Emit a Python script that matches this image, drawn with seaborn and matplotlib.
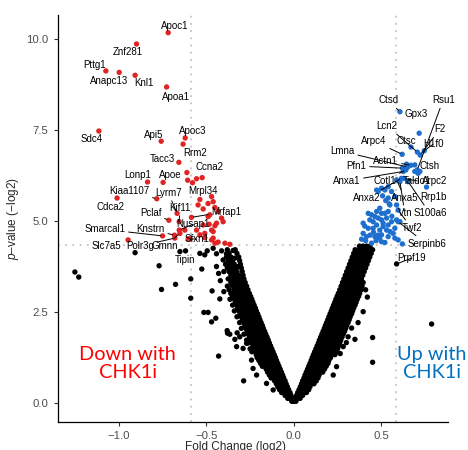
import numpy as np
import pandas as pd
import matplotlib
matplotlib.use("Agg")
import matplotlib.pyplot as plt
import seaborn as sns

# ---- data (log2 fold change, -log2 p-value) ----
down_genes = ["Apoc1", "Znf281", "Pttg1", "Anapc13", "Knl1", "Apoa1", "Sdc4", "Api5",
              "Apoc3", "Rrm2", "Tacc3", "Ccna2", "Lonp1", "Apoe", "Kiaa1107", "Lyrm7",
              "Mrpl34", "Cdca2", "Kif11", "Mrfap1", "Pclaf", "Nusap1", "Smarcal1",
              "Knstrn", "Slc7a5", "Polr3g", "Gmnn", "Sfxn1"]
down_fc = [-0.718, -0.899, -1.074, -0.998, -0.907, -0.727, -1.114, -0.758,
           -0.621, -0.633, -0.657, -0.524, -0.836, -0.747, -0.783, -0.667,
           -0.470, -1.010, -0.655, -0.585, -0.714, -0.655, -0.750,
           -0.682, -0.947, -0.680, -0.651, -0.594]
down_p = [10.16, 9.85, 9.11, 9.07, 8.99, 8.67, 7.46, 7.18,
          7.27, 7.10, 6.60, 6.18, 6.06, 6.05, 5.60, 5.20,
          5.66, 5.62, 4.97, 5.09, 5.01, 4.74, 4.58,
          4.60, 4.47, 4.52, 4.65, 4.50]

down_other_fc = [-0.611, -0.607, -0.579, -0.556, -0.547, -0.518, -0.461, -0.451, -0.490,
                 -0.433, -0.413, -0.484, -0.451, -0.480, -0.442, -0.404, -0.518, -0.509,
                 -0.461, -0.470, -0.394, -0.451, -0.537, -0.509, -0.470, -0.461, -0.433,
                 -0.366, -0.556, -0.623, -0.604, -0.537, -0.49]
down_other_p = [6.32, 6.11, 6.04, 6.15, 5.43, 5.32, 5.52, 5.36, 5.11,
                5.25, 5.07, 4.90, 4.86, 5.16, 4.93, 4.97, 4.88, 4.65,
                4.70, 4.47, 4.38, 4.38, 4.61, 4.53, 4.74, 4.52, 4.41,
                4.35, 4.74, 4.74, 4.50, 5.58, 5.47]

up_genes = ["Ctsd", "Rsu1", "Gpx3", "Lcn2", "F2", "Arpc4", "Ctsc", "H1f0", "Lmna",
            "Actn1", "Pfn1", "Ctsh", "Anxa1", "Cotl1", "Taldo1", "Arpc2", "Anxa2",
            "Anxa5", "Rrp1b", "Vtn", "S100a6", "Twf2", "Serpinb6"]
up_fc = [0.606, 0.705, 0.716, 0.706, 0.722, 0.619, 0.669, 0.745, 0.651,
         0.669, 0.621, 0.710, 0.625, 0.640, 0.629, 0.758, 0.615,
         0.587, 0.720, 0.606, 0.653, 0.596, 0.596]
up_p = [7.99, 6.39, 7.40, 6.88, 6.80, 6.82, 7.02, 6.92, 6.47,
        6.52, 6.44, 6.30, 6.35, 6.39, 6.16, 5.92, 6.16,
        6.12, 6.35, 6.07, 6.07, 5.29, 4.97]

up_other_fc = [0.644, 0.691, 0.691, 0.539, 0.520, 0.501, 0.482, 0.473, 0.558, 0.577,
               0.507, 0.539, 0.587, 0.549, 0.491, 0.473, 0.501, 0.520, 0.539, 0.425,
               0.444, 0.463, 0.482, 0.501, 0.530, 0.434, 0.453, 0.473, 0.510, 0.539,
               0.558, 0.587, 0.606, 0.577, 0.530, 0.491, 0.453, 0.425, 0.396, 0.415,
               0.463, 0.501, 0.539, 0.577, 0.596, 0.620, 0.396, 0.444, 0.387, 0.501,
               0.480, 0.549, 0.567, 0.545, 0.410, 0.520, 0.455, 0.470, 0.435, 0.490,
               0.510, 0.405, 0.560, 0.525]
up_other_p = [6.55, 6.53, 6.35, 5.93, 5.84, 5.89, 5.80, 5.84, 5.80, 5.66,
              5.68, 5.62, 5.43, 5.43, 5.34, 5.25, 5.20, 5.20, 5.25, 5.20,
              5.16, 5.11, 5.07, 5.02, 5.07, 5.02, 4.97, 4.88, 4.93, 4.88,
              4.97, 5.02, 4.97, 4.79, 4.74, 4.74, 4.79, 4.79, 4.65, 4.56,
              4.56, 4.61, 4.56, 4.52, 4.47, 4.36, 4.93, 4.38, 4.49, 4.42,
              4.60, 4.70, 4.65, 5.46, 4.45, 4.40, 4.68, 4.45, 4.60, 4.52,
              4.84, 4.85, 5.12, 5.55]

ns_genes = ["Tipin", "Prpf19"]
ns_fc = [-0.619, 0.587]
ns_p = [4.17, 3.81]

# the dense V of non-significant proteins, read row by row (-log2 p, then fold changes)
arm_rows_p = [0.04, 0.12, 0.20, 0.28, 0.36, 0.44, 0.52, 0.60, 0.68, 0.76, 0.84, 0.92,
              1.00, 1.08, 1.16, 1.24, 1.32, 1.40, 1.48, 1.56, 1.64, 1.72, 1.80, 1.88,
              1.96, 2.04, 2.12, 2.20, 2.28, 2.36, 2.44, 2.52, 2.60, 2.68, 2.76, 2.84,
              2.92, 3.00, 3.10, 3.20, 3.30, 3.40, 3.50, 3.60, 3.70, 3.80, 3.90, 4.00,
              4.10, 4.20, 4.30]
left_arm_fc = [
    [-0.003, -0.012], [-0.008, -0.022, -0.035], [-0.016, -0.032, -0.05],
    [-0.022, -0.04, -0.058, -0.07], [-0.03, -0.048, -0.066, -0.082],
    [-0.037, -0.055, -0.073, -0.092], [-0.044, -0.063, -0.082, -0.1],
    [-0.05, -0.07, -0.09, -0.11], [-0.058, -0.078, -0.098, -0.118, -0.13],
    [-0.064, -0.084, -0.104, -0.124, -0.14], [-0.071, -0.091, -0.111, -0.131, -0.15],
    [-0.078, -0.098, -0.118, -0.138, -0.158],
    [-0.085, -0.105, -0.125, -0.145, -0.165, -0.18],
    [-0.092, -0.112, -0.132, -0.152, -0.172, -0.19],
    [-0.099, -0.119, -0.139, -0.159, -0.179, -0.2],
    [-0.105, -0.125, -0.145, -0.165, -0.185, -0.21],
    [-0.112, -0.132, -0.152, -0.172, -0.192, -0.215],
    [-0.119, -0.139, -0.159, -0.179, -0.199, -0.22, -0.24],
    [-0.126, -0.146, -0.166, -0.186, -0.206, -0.226, -0.25],
    [-0.133, -0.153, -0.173, -0.193, -0.213, -0.233],
    [-0.14, -0.16, -0.18, -0.2, -0.22, -0.24, -0.262],
    [-0.146, -0.166, -0.186, -0.206, -0.226, -0.246, -0.27],
    [-0.153, -0.173, -0.193, -0.213, -0.233, -0.253],
    [-0.16, -0.18, -0.2, -0.22, -0.24, -0.26, -0.285],
    [-0.167, -0.187, -0.207, -0.227, -0.247, -0.267],
    [-0.174, -0.194, -0.214, -0.234, -0.254, -0.274, -0.3],
    [-0.18, -0.2, -0.22, -0.24, -0.26, -0.28],
    [-0.187, -0.207, -0.227, -0.247, -0.267, -0.287, -0.31],
    [-0.194, -0.214, -0.234, -0.254, -0.274, -0.294],
    [-0.2, -0.22, -0.24, -0.26, -0.28, -0.3, -0.325],
    [-0.207, -0.227, -0.247, -0.267, -0.287, -0.307],
    [-0.214, -0.234, -0.254, -0.274, -0.294, -0.314, -0.34],
    [-0.22, -0.24, -0.26, -0.28, -0.3, -0.32],
    [-0.227, -0.247, -0.267, -0.287, -0.307, -0.327, -0.35],
    [-0.234, -0.254, -0.274, -0.294, -0.314, -0.334],
    [-0.24, -0.26, -0.28, -0.3, -0.32, -0.34, -0.365],
    [-0.247, -0.267, -0.287, -0.307, -0.327, -0.35],
    [-0.254, -0.274, -0.294, -0.314, -0.334, -0.36],
    [-0.262, -0.282, -0.302, -0.322, -0.342, -0.37],
    [-0.27, -0.29, -0.31, -0.33, -0.35, -0.38],
    [-0.278, -0.3, -0.32, -0.34, -0.36],
    [-0.285, -0.308, -0.328, -0.35, -0.375],
    [-0.29, -0.316, -0.336, -0.36],
    [-0.295, -0.325, -0.345, -0.37, -0.4],
    [-0.3, -0.333, -0.355, -0.38],
    [-0.305, -0.34, -0.365, -0.39],
    [-0.31, -0.35, -0.375],
    [-0.315, -0.36, -0.385],
    [-0.325, -0.37],
    [-0.335, -0.38],
    [],
]
right_arm_fc = [
    [0.003, 0.012], [0.008, 0.022, 0.036], [0.016, 0.032, 0.05],
    [0.022, 0.04, 0.058, 0.072], [0.03, 0.048, 0.066, 0.085],
    [0.037, 0.055, 0.073, 0.092], [0.044, 0.063, 0.082, 0.1, 0.115],
    [0.05, 0.07, 0.09, 0.11, 0.128], [0.058, 0.078, 0.098, 0.118, 0.138],
    [0.064, 0.084, 0.104, 0.124, 0.144], [0.071, 0.091, 0.111, 0.131, 0.151, 0.165],
    [0.078, 0.098, 0.118, 0.138, 0.158, 0.175],
    [0.085, 0.105, 0.125, 0.145, 0.165, 0.185],
    [0.092, 0.112, 0.132, 0.152, 0.172, 0.195],
    [0.099, 0.119, 0.139, 0.159, 0.179, 0.2],
    [0.105, 0.125, 0.145, 0.165, 0.185, 0.21],
    [0.112, 0.132, 0.152, 0.172, 0.192, 0.215, 0.235],
    [0.119, 0.139, 0.159, 0.179, 0.199, 0.22, 0.245],
    [0.126, 0.146, 0.166, 0.186, 0.206, 0.226, 0.25],
    [0.133, 0.153, 0.173, 0.193, 0.213, 0.233, 0.255],
    [0.14, 0.16, 0.18, 0.2, 0.22, 0.24, 0.262],
    [0.146, 0.166, 0.186, 0.206, 0.226, 0.246, 0.268],
    [0.153, 0.173, 0.193, 0.213, 0.233, 0.253, 0.275],
    [0.16, 0.18, 0.2, 0.22, 0.24, 0.26, 0.282],
    [0.167, 0.187, 0.207, 0.227, 0.247, 0.267, 0.29],
    [0.174, 0.194, 0.214, 0.234, 0.254, 0.274, 0.296],
    [0.18, 0.2, 0.22, 0.24, 0.26, 0.28, 0.302],
    [0.187, 0.207, 0.227, 0.247, 0.267, 0.287, 0.31],
    [0.194, 0.214, 0.234, 0.254, 0.274, 0.294, 0.316],
    [0.2, 0.22, 0.24, 0.26, 0.28, 0.3, 0.322],
    [0.207, 0.227, 0.247, 0.267, 0.287, 0.307, 0.33],
    [0.214, 0.234, 0.254, 0.274, 0.294, 0.314, 0.336],
    [0.22, 0.24, 0.26, 0.28, 0.3, 0.32, 0.342],
    [0.227, 0.247, 0.267, 0.287, 0.307, 0.327, 0.35],
    [0.234, 0.254, 0.274, 0.294, 0.314, 0.334, 0.356],
    [0.24, 0.26, 0.28, 0.3, 0.32, 0.34, 0.362],
    [0.247, 0.267, 0.287, 0.307, 0.327, 0.347, 0.37],
    [0.254, 0.274, 0.294, 0.314, 0.334, 0.354, 0.376],
    [0.262, 0.282, 0.302, 0.322, 0.342, 0.362, 0.384],
    [0.27, 0.29, 0.31, 0.33, 0.35, 0.37, 0.39],
    [0.278, 0.298, 0.318, 0.338, 0.358, 0.378, 0.396],
    [0.286, 0.306, 0.326, 0.346, 0.366, 0.386],
    [0.294, 0.314, 0.334, 0.354, 0.374, 0.394],
    [0.302, 0.322, 0.342, 0.362, 0.382, 0.402],
    [0.31, 0.33, 0.35, 0.37, 0.39, 0.41],
    [0.318, 0.338, 0.358, 0.378, 0.398, 0.418],
    [0.326, 0.346, 0.366, 0.386, 0.406, 0.426],
    [0.334, 0.354, 0.374, 0.394, 0.414, 0.434],
    [0.342, 0.362, 0.382, 0.402, 0.422, 0.442],
    [0.35, 0.37, 0.39, 0.41, 0.43, 0.45],
    [0.375, 0.395, 0.415, 0.435],
]

# scattered non-significant points around the V
ns_other_fc = [
    -1.251, -1.229, -0.907, -0.770, -0.756, -0.676, -0.651, -0.589, -0.537, -0.509,
    -0.495, -0.461, -0.442, -0.413, -0.385, -0.347, -0.366, -0.337, -0.404, -0.442,
    -0.356, -0.318, -0.526, -0.467, -0.423, -0.514, -0.490, -0.446, -0.470, -0.381,
    -0.366, -0.324, -0.309, -0.337, -0.270, -0.290, -0.242, -0.233, -0.213, -0.287,
    -0.156, -0.118, -0.430, -0.327, -0.379, -0.322, -0.589, -0.42, -0.40, -0.43,
    0.367, 0.396, 0.349, 0.310, 0.282, 0.244, 0.225, 0.450, 0.450, 0.787, 0.41, 0.42,
    0.265, 0.30, 0.33,
]
ns_other_p = [
    3.59, 3.45, 4.12, 3.76, 3.11, 3.25, 4.15, 2.87, 4.10, 4.06,
    4.17, 4.24, 4.09, 4.17, 4.09, 4.18, 3.92, 3.97, 3.92, 3.74,
    3.69, 3.74, 3.67, 3.07, 2.85, 2.48, 2.48, 2.32, 2.22, 1.98,
    1.88, 1.92, 1.81, 1.74, 1.63, 1.49, 1.17, 0.94, 0.76, 0.60,
    0.53, 0.35, 1.28, 1.54, 1.91, 2.60, 3.40, 3.35, 3.05, 3.55,
    2.20, 2.50, 1.74, 1.81, 1.54, 0.99, 0.76, 1.79, 1.11, 2.16, 3.10, 2.90,
    1.35, 1.65, 2.05,
]

# label placement (text centre in data units, whether a connector is drawn)
label_pos = {
    "Apoc1": (-0.680, 10.35, False), "Znf281": (-0.947, 9.63, False),
    "Pttg1": (-1.137, 9.28, False), "Anapc13": (-1.055, 8.82, False),
    "Knl1": (-0.855, 8.79, False), "Apoa1": (-0.676, 8.39, False),
    "Sdc4": (-1.156, 7.24, False), "Api5": (-0.800, 7.35, False),
    "Apoc3": (-0.575, 7.46, False), "Rrm2": (-0.566, 6.87, False),
    "Tacc3": (-0.753, 6.69, False), "Ccna2": (-0.484, 6.47, False),
    "Lonp1": (-0.893, 6.24, False), "Apoe": (-0.705, 6.24, False),
    "Kiaa1107": (-0.941, 5.80, True), "Lyrm7": (-0.718, 5.77, True),
    "Mrpl34": (-0.518, 5.82, False), "Cdca2": (-1.047, 5.37, False),
    "Kif11": (-0.651, 5.36, True), "Mrfap1": (-0.385, 5.25, True),
    "Pclaf": (-0.819, 5.22, True), "Nusap1": (-0.575, 4.90, True),
    "Smarcal1": (-1.080, 4.76, True), "Knstrn": (-0.819, 4.76, True),
    "Slc7a5": (-1.070, 4.30, False), "Polr3g": (-0.880, 4.30, True),
    "Gmnn": (-0.737, 4.29, True), "Sfxn1": (-0.556, 4.49, True),
    "Tipin": (-0.623, 3.92, False),
    "Ctsd": (0.539, 8.31, True), "Rsu1": (0.853, 8.31, True),
    "Gpx3": (0.697, 7.92, False), "Lcn2": (0.533, 7.60, True),
    "F2": (0.834, 7.51, True), "Arpc4": (0.457, 7.19, True),
    "Ctsc": (0.640, 7.19, False), "H1f0": (0.796, 7.10, True),
    "Lmna": (0.278, 6.90, True), "Actn1": (0.526, 6.64, True),
    "Pfn1": (0.358, 6.50, True), "Ctsh": (0.777, 6.50, False),
    "Anxa1": (0.301, 6.09, True), "Cotl1": (0.520, 6.09, True),
    "Taldo1": (0.706, 6.09, True), "Arpc2": (0.806, 6.09, False),
    "Anxa2": (0.415, 5.62, True), "Anxa5": (0.634, 5.62, True),
    "Rrp1b": (0.796, 5.66, False), "Vtn": (0.634, 5.20, True),
    "S100a6": (0.777, 5.20, True), "Twf2": (0.673, 4.79, True),
    "Serpinb6": (0.758, 4.36, True), "Prpf19": (0.673, 3.97, True),
}

RED = "#e02424"
BLUE = "#1f6fce"

arm_fc, arm_p = [], []
for p, lrow, rrow in zip(arm_rows_p, left_arm_fc, right_arm_fc):
    for x in lrow + rrow:
        arm_fc.append(x)
        arm_p.append(p)

df = pd.concat([
    pd.DataFrame({"fc": arm_fc + ns_other_fc + ns_fc,
                  "p": arm_p + ns_other_p + ns_p, "grp": "ns"}),
    pd.DataFrame({"fc": down_other_fc + down_fc, "p": down_other_p + down_p, "grp": "down"}),
    pd.DataFrame({"fc": up_other_fc + up_fc, "p": up_other_p + up_p, "grp": "up"}),
], ignore_index=True)

sns.set_style("ticks")
plt.rcParams["font.family"] = ["Liberation Sans", "DejaVu Sans"]
plt.rcParams["mathtext.fontset"] = "custom"
plt.rcParams["mathtext.it"] = "Liberation Sans:italic"
plt.rcParams["mathtext.rm"] = "Liberation Sans"

fig = plt.figure(figsize=(4.68, 4.5), dpi=100)
ax = fig.add_axes([0.123, 0.063, 0.834, 0.904])

ax.axvline(-0.585, color="#c4c4c4", lw=1.3, ls=(0, (1, 3)), zorder=0)
ax.axvline(0.585, color="#c4c4c4", lw=1.3, ls=(0, (1, 3)), zorder=0)
ax.axhline(4.32, color="#c4c4c4", lw=1.3, ls=(0, (1, 3)), zorder=0)

sns.scatterplot(data=df, x="fc", y="p", hue="grp",
                palette={"ns": "black", "down": RED, "up": BLUE},
                s=15, linewidth=0, legend=False, ax=ax, zorder=2)

points = {}
for names, xs, ys in [(down_genes, down_fc, down_p), (up_genes, up_fc, up_p),
                      (ns_genes, ns_fc, ns_p)]:
    for n, x, y in zip(names, xs, ys):
        points[n] = (x, y)

for name, (tx, ty, line) in label_pos.items():
    px, py = points[name]
    if line:
        ax.annotate(name, xy=(px, py), xytext=(tx, ty), ha="center", va="center",
                    fontsize=7, color="black", zorder=4,
                    arrowprops=dict(arrowstyle="-", color="black", lw=0.7,
                                    shrinkA=0, shrinkB=1.5))
    else:
        ax.text(tx, ty, name, ha="center", va="center", fontsize=7,
                color="black", zorder=4)

ax.text(-0.95, 1.08, "Down with\nCHK1i", color="#ff0000", fontsize=14.3,
        family="Lato", ha="center", va="center", linespacing=1.1)
ax.text(0.79, 1.08, "Up with\nCHK1i", color="#0070c0", fontsize=14.3,
        family="Lato", ha="center", va="center", linespacing=1.1)

ax.set_xlim(-1.35, 0.88)
ax.set_ylim(-0.52, 10.65)
ax.set_xticks([-1.0, -0.5, 0.0, 0.5])
ax.set_xticklabels(["\u22121.0", "\u22120.5", "0.0", "0.5"])
ax.set_yticks([0.0, 2.5, 5.0, 7.5, 10.0])
ax.set_yticklabels(["0.0", "2.5", "5.0", "7.5", "10.0"])
ax.tick_params(labelsize=8.2, labelcolor="#4d4d4d", color="#333333",
               length=3, width=0.8)
sns.despine(ax=ax)
for sp in ["left", "bottom"]:
    ax.spines[sp].set_color("black")
    ax.spines[sp].set_linewidth(0.9)

ax.set_xlabel("Fold Change (log2)", fontsize=8.5, labelpad=2)
ax.xaxis.set_label_coords(0.457, -0.047)
ax.set_ylabel("$\\it{p}$\u2013value (\u2212log2)", fontsize=8.5, labelpad=4)

fig.savefig("out.png", dpi=100)
